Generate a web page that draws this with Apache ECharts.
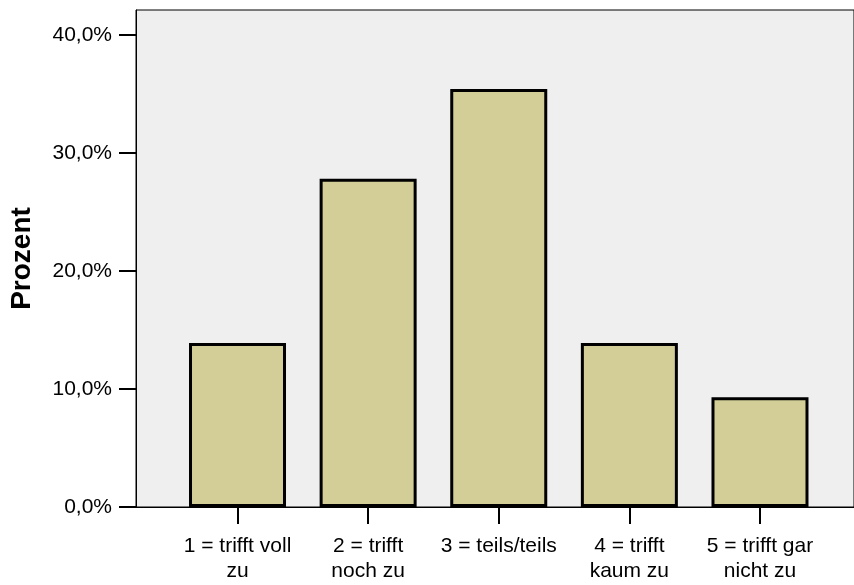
<!DOCTYPE html>
<html>
<head>
<meta charset="utf-8">
<script src="https://cdn.jsdelivr.net/npm/echarts@6/dist/echarts.min.js"></script>
<style>html,body{margin:0;padding:0;background:#fff;}#c{width:854px;height:585px;}</style>
</head>
<body>
<div id="c"></div>
<script>
const categories = ['1 = trifft voll\nzu', '2 = trifft\nnoch zu', '3 = teils/teils', '4 = trifft\nkaum zu', '5 = trifft gar\nnicht zu'];
const values = [13.9, 27.8, 35.4, 13.9, 9.3];
const yTicks = [0, 10, 20, 30, 40];
const yTitle = 'Prozent';

const FONT = 'Liberation Sans, Arial, sans-serif';
const yMax = 42.1;
const chart = echarts.init(document.getElementById('c'), null, {renderer: 'canvas'});
chart.setOption({
  animation: false,
  backgroundColor: '#ffffff',
  grid: [
    {left: 136, right: -2, top: 10, bottom: 78, show: true, backgroundColor: '#efefef', borderColor: '#000', borderWidth: 1},
    {left: 172.2, right: 28.7, top: 10, bottom: 78}
  ],
  xAxis: [
    {gridIndex: 0, type: 'value', min: 0, max: 1, axisLine: {show: true, lineStyle: {color: '#000', width: 1}}, axisTick: {show: false}, axisLabel: {show: false}, splitLine: {show: false}},
    {gridIndex: 1, type: 'category', data: categories, boundaryGap: true,
     axisLine: {show: false},
     axisTick: {show: true, alignWithLabel: true, length: 17, lineStyle: {color: '#000', width: 2}},
     axisLabel: {color: '#000', fontFamily: FONT, fontSize: 21, lineHeight: 25, margin: 27, interval: 0, align: 'center'}}
  ],
  yAxis: [
    {gridIndex: 0, type: 'value', min: 0, max: yMax,
     name: yTitle, nameLocation: 'middle', nameGap: 100,
     nameTextStyle: {color: '#000', fontFamily: FONT, fontSize: 28, fontWeight: 'bold'},
     axisLine: {show: true, lineStyle: {color: '#000', width: 1}},
     axisTick: {show: true, length: 17, customValues: yTicks, lineStyle: {color: '#000', width: 2}},
     axisLabel: {color: '#000', fontFamily: FONT, fontSize: 21, margin: 24, customValues: yTicks, formatter: v => v.toFixed(1).replace('.', ',') + '%'},
     splitLine: {show: false}},
    {gridIndex: 1, type: 'value', min: 0, max: yMax, show: false, splitLine: {show: false}}
  ],
  series: [{
    type: 'bar', xAxisIndex: 1, yAxisIndex: 1, data: values, barWidth: 97,
    itemStyle: {color: '#d3ce97', borderColor: '#000', borderWidth: 3}
  }]
});
</script>
</body>
</html>
